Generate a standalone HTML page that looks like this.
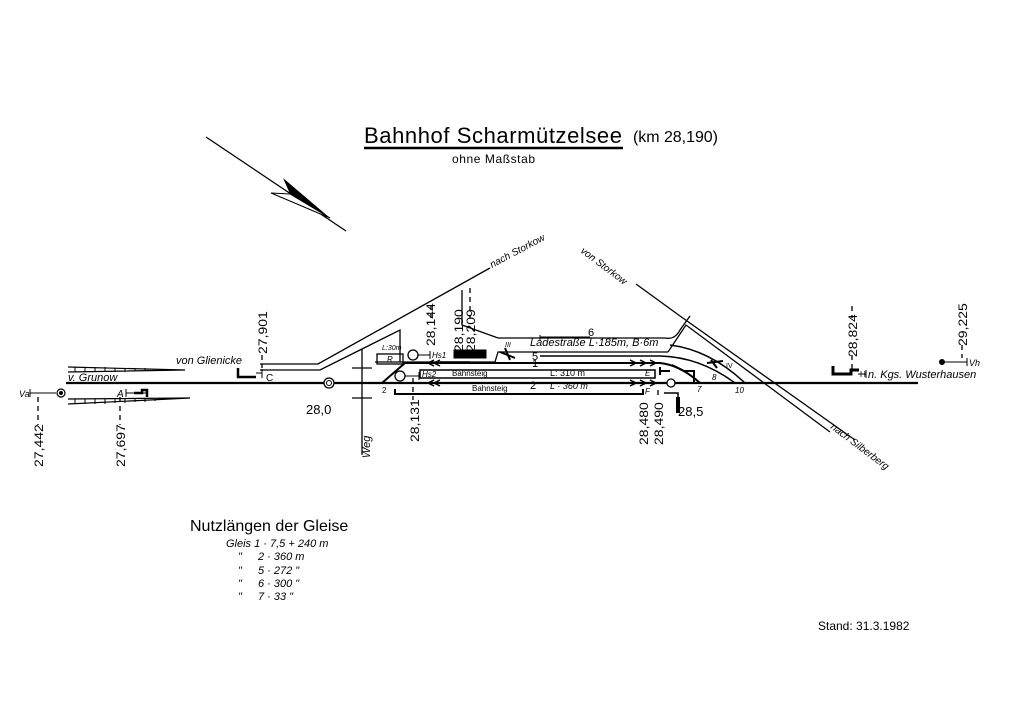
<!DOCTYPE html>
<html><head><meta charset="utf-8"><style>
html,body{margin:0;padding:0;background:#fff}
svg{display:block}
text{font-family:"Liberation Sans",sans-serif;fill:#000}
.i{font-style:italic}
</style></head><body>
<svg width="1024" height="724" viewBox="0 0 1024 724" xmlns="http://www.w3.org/2000/svg">
<g stroke="#000" fill="none">
<line x1="206" y1="137" x2="346" y2="231" stroke-width="1.3"/>
<polygon points="283,178 330,218 290,194" fill="#000" stroke="none"/>
<polygon points="271,193 330,218 290,194" fill="#fff" stroke-width="1"/>
<line x1="364" y1="148" x2="623" y2="148" stroke-width="2.5"/>
<line x1="66" y1="383" x2="918" y2="383" stroke-width="2.2"/>
<line x1="30" y1="393" x2="56" y2="393" stroke-width="1"/><line x1="30" y1="389" x2="30" y2="397"/>
<path d="M68,367 L185,370 M68,372 L185,370" stroke-width="1.2"/>
<path d="M68,399 L190,398 M68,404 L190,398" stroke-width="1.2"/>
<g stroke-width="1">
<path d="M75,367v5M85,367v5M95,367v5M105,367v5M115,368v4M125,368v4M135,368v3M145,368v3M155,369v2"/>
<path d="M75,399v5M85,399v5M95,399v5M105,399v5M115,399v4M125,399v4M135,399v3M145,399v3M155,399v2"/>
</g>
<line x1="126" y1="393" x2="148" y2="393"/><line x1="126" y1="389" x2="126" y2="397"/>
<path d="M134,393h8v-3h5v7" stroke-width="2.5"/>
<path d="M260,364 L318,364 L490,268" stroke-width="1.3"/>
<path d="M260,370 L320,370 L362,349 M362,349 L362,455" stroke-width="1.3"/>
<path d="M362,349 L400,330 L400,362 L375,362" stroke-width="1.3"/>
<path d="M352,368h20M352,398h20" stroke-width="1.2"/>
<path d="M238,368v9h18" stroke-width="2.5"/><line x1="256" y1="373" x2="262" y2="373"/><line x1="262" y1="369" x2="262" y2="378"/>
<circle cx="329" cy="383" r="5" fill="#fff" stroke-width="1.3"/><circle cx="329" cy="383" r="2.5" stroke-width="1"/>
<path d="M462,290 L462,325 L498,338 L665,338 Q675,340 680,330 L690,316" stroke-width="1.3"/>
<path d="M400,362 L495,362 L498,352 L668,352" stroke-width="1.3"/>
<path d="M668,352 L686,325 L830,432" stroke-width="1.3"/>
<path d="M636,284 L680,316 L855,440" stroke-width="1.3"/>
<line x1="540" y1="335" x2="540" y2="340"/><line x1="540" y1="337" x2="590" y2="337" stroke-width="1"/>
<path d="M670,345 Q710,350 745,383" stroke-width="1.5"/>
<path d="M540,356 L660,356 Q700,357 735,383" stroke-width="1.5"/>
<line x1="440" y1="362" x2="470" y2="362" stroke-width="1.5"/>
<path d="M382,383 L405,363 L585,363 M545,363 L660,363 Q680,365 700,383" stroke-width="2"/>
<rect x="420" y="370" width="235" height="8" stroke-width="1.5"/>
<path d="M395,389v5h248v-5" stroke-width="2"/>
<rect x="377" y="354" width="26" height="10" stroke-width="1.3"/>
<rect x="454" y="350" width="32" height="8" fill="#000"/>
<circle cx="413" cy="355" r="5" fill="#fff" stroke-width="1.3"/>
<circle cx="400" cy="376" r="5" fill="#fff" stroke-width="1.3"/>
<path d="M418,355h12M430,351v8"/>
<path d="M405,376h14M419,372v8"/>
<path d="M660,371h10M660,367v8M672,365l12,6h10v12" stroke-width="2"/>
<circle cx="671" cy="383" r="4" fill="#fff" stroke-width="1.3"/>
<path d="M664,393h14v20" stroke-width="1.5"/><path d="M678,397v16" stroke-width="4"/>
<path d="M707,363l16,-2M711,360l6,8" stroke-width="2"/>
<path d="M500,352l15,6M505,348l5,12" stroke-width="2"/>
<path d="M833,366v8h18v-4h8" stroke-width="3"/><line x1="858" y1="374" x2="866" y2="374"/><line x1="866" y1="370" x2="866" y2="378"/>
<line x1="945" y1="362" x2="967" y2="362"/><line x1="967" y1="358" x2="967" y2="366"/>
<g stroke-width="1.3" stroke-dasharray="5,4">
<line x1="38" y1="397" x2="38" y2="425"/>
<line x1="120" y1="397" x2="120" y2="425"/>
<line x1="262" y1="355" x2="262" y2="368"/>
<line x1="431" y1="305" x2="431" y2="318"/>
<line x1="470" y1="288" x2="470" y2="318"/>
<line x1="413" y1="378" x2="413" y2="400"/>
<line x1="658" y1="390" x2="658" y2="398"/>
<line x1="852" y1="306" x2="852" y2="318"/>
<line x1="852" y1="355" x2="852" y2="372"/>
<line x1="962" y1="345" x2="962" y2="358"/>
</g>
<g stroke-width="1.5">
<path d="M434,360l-6,3l6,3M440,360l-6,3l6,3"/>
<path d="M630,360l6,3l-6,3M640,360l6,3l-6,3M650,360l6,3l-6,3"/>
<path d="M434,380l-6,3l6,3M440,380l-6,3l6,3"/>
<path d="M630,380l6,3l-6,3M640,380l6,3l-6,3M650,380l6,3l-6,3"/>
</g>
</g>
<circle cx="61" cy="393" r="4" fill="#fff" stroke="#000" stroke-width="1.2"/><circle cx="61" cy="393" r="2" fill="#000"/>
<circle cx="942" cy="362" r="3" fill="#000"/>
<text x="364" y="143" font-size="22" textLength="258" lengthAdjust="spacing">Bahnhof  Scharmützelsee</text>
<text x="633" y="142" font-size="16" textLength="85">(km 28,190)</text>
<text x="452" y="163" font-size="12" textLength="83">ohne Maßstab</text>
<text x="68" y="381" font-size="11" class="i">v. Grunow</text>
<text x="176" y="364" font-size="11" class="i">von Glienicke</text>
<text x="266" y="381" font-size="10">C</text>
<text x="117" y="397" font-size="10" class="i">A</text>
<text x="19" y="397" font-size="9" class="i">Va</text>
<text x="306" y="414" font-size="13">28,0</text>
<text x="678" y="416" font-size="13">28,5</text>
<text x="868" y="378" font-size="11" class="i">n. Kgs. Wusterhausen</text>
<text x="969" y="366" font-size="9" class="i">Vh</text>
<text x="860" y="377" font-size="8">H</text>
<text transform="translate(492,268) rotate(-28)" font-size="10" class="i">nach Storkow</text>
<text transform="translate(580,252) rotate(37)" font-size="10" class="i">von Storkow</text>
<text transform="translate(830,428) rotate(37)" font-size="10" class="i">nach Silberberg</text>
<text transform="translate(370,458) rotate(-90)" font-size="11" class="i">Weg</text>
<text x="530" y="346" font-size="11" class="i">Ladestraße  L·185m, B·6m</text>
<text x="505" y="347" font-size="7" class="i">III</text>
<text x="588" y="336" font-size="11">6</text>
<text x="532" y="360" font-size="11">5</text>
<text x="532" y="367" font-size="11">1</text>
<text x="550" y="376" font-size="9">L: 310 m</text>
<text x="452" y="376" font-size="8">Bahnsteig</text>
<text x="422" y="377" font-size="8" class="i">Hs2</text>
<text x="432" y="358" font-size="8" class="i">Hs1</text>
<text x="382" y="350" font-size="7" class="i">L:30m</text>
<text x="387" y="362" font-size="8" class="i">R</text>
<text x="472" y="391" font-size="8">Bahnsteig</text>
<text x="530" y="389" font-size="11">2</text>
<text x="550" y="389" font-size="9" class="i">L · 360 m</text>
<text x="645" y="376" font-size="8" class="i">E</text>
<text x="645" y="394" font-size="8" class="i">F</text>
<text x="382" y="393" font-size="8">2</text>
<text x="697" y="392" font-size="8" class="i">7</text>
<text x="735" y="393" font-size="8" class="i">10</text>
<text x="712" y="380" font-size="8" class="i">8</text>
<text x="726" y="368" font-size="7">IV</text>
<g font-size="14">
<text transform="translate(43,467) rotate(-90) scale(1,0.85)">27,442</text>
<text transform="translate(125,467) rotate(-90) scale(1,0.85)">27,697</text>
<text transform="translate(267,354) rotate(-90) scale(1,0.85)">27,901</text>
<text transform="translate(435,346) rotate(-90) scale(1,0.85)">28,144</text>
<text transform="translate(463,352) rotate(-90) scale(1,0.85)">28,190</text>
<text transform="translate(475,352) rotate(-90) scale(1,0.85)">28,209</text>
<text transform="translate(419,442) rotate(-90) scale(1,0.85)">28,131</text>
<text transform="translate(648,445) rotate(-90) scale(1,0.85)">28,480</text>
<text transform="translate(663,445) rotate(-90) scale(1,0.85)">28,490</text>
<text transform="translate(857,357) rotate(-90) scale(1,0.85)">28,824</text>
<text transform="translate(967,346) rotate(-90) scale(1,0.85)">29,225</text>
</g>
<text x="190" y="531" font-size="16">Nutzlängen der Gleise</text>
<g font-size="11" class="i">
<text x="226" y="547">Gleis  1 · 7,5 + 240 m</text>
<text x="238" y="560">"</text><text x="258" y="560">2 · 360 m</text>
<text x="238" y="574">"</text><text x="258" y="574">5 · 272 "</text>
<text x="238" y="587">"</text><text x="258" y="587">6 · 300 "</text>
<text x="238" y="600">"</text><text x="258" y="600">7 ·  33 "</text>
</g>
<text x="818" y="630" font-size="12">Stand: 31.3.1982</text>
</svg>
</body></html>
